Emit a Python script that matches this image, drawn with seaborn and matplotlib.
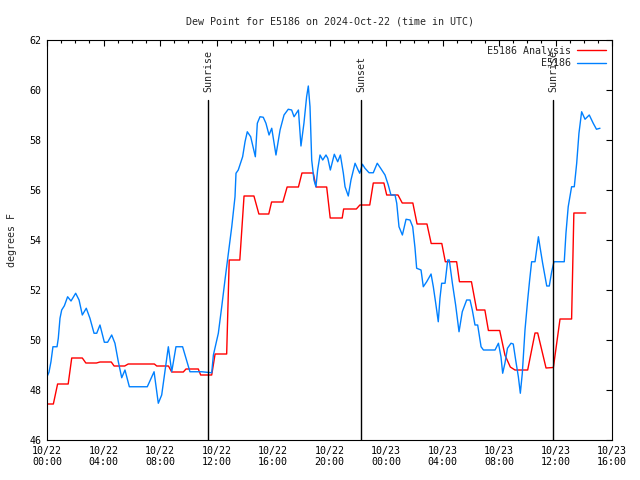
"""Dew point at station E5186: observations vs analysis, 2024-10-22/23 (UTC)."""

import matplotlib

matplotlib.use("Agg")
import matplotlib.pyplot as plt
import pandas as pd
import seaborn as sns
from matplotlib.ticker import MultipleLocator

# hours since 2024-10-22 00:00 UTC
obs_hours = [
    0.00, 0.14, 0.28, 0.42, 0.71, 0.80, 0.92, 1.04, 1.23, 1.46, 1.70, 2.03, 2.27, 2.50,
    2.78, 3.04, 3.33, 3.52, 3.75, 4.06, 4.29, 4.58, 4.81, 5.05, 5.29, 5.52, 5.83, 7.10,
    7.58, 7.88, 8.12, 8.59, 8.83, 9.13, 9.60, 10.12, 10.95, 11.66, 11.78, 12.13, 12.37,
    12.60, 12.84, 13.08, 13.31, 13.38, 13.54, 13.85, 14.02, 14.18, 14.42, 14.75, 14.89,
    15.08, 15.31, 15.50, 15.72, 15.91, 16.21, 16.50, 16.78, 17.08, 17.32, 17.49, 17.80,
    17.98, 18.19, 18.38, 18.50, 18.62, 18.74, 18.90, 19.04, 19.16, 19.33, 19.52, 19.75,
    19.88, 20.06, 20.34, 20.58, 20.77, 20.98, 21.10, 21.33, 21.52, 21.81, 22.00, 22.14,
    22.33, 22.51, 22.80, 23.10, 23.38, 23.62, 23.93, 24.16, 24.35, 24.64, 24.76, 24.92,
    25.16, 25.42, 25.70, 25.89, 26.05, 26.17, 26.48, 26.64, 26.88, 27.19, 27.35, 27.52,
    27.70, 27.82, 27.94, 28.18, 28.37, 28.48, 28.70, 28.93, 29.17, 29.40, 29.71, 29.95,
    30.11, 30.30, 30.49, 30.73, 30.90, 31.72, 31.96, 32.14, 32.26, 32.42, 32.60, 32.85,
    33.01, 33.18, 33.37, 33.51, 33.65, 33.84, 34.03, 34.17, 34.31, 34.55, 34.79, 34.90,
    35.09, 35.38, 35.56, 35.73, 35.89, 36.62, 36.74, 36.90, 37.14, 37.33, 37.50, 37.66,
    37.85, 38.09, 38.39, 38.67, 38.90, 39.15,
]
obs_dewpt = [
    48.53, 48.71, 49.13, 49.73, 49.73, 50.07, 50.87, 51.20, 51.37, 51.73, 51.56, 51.87, 51.60, 51.00,
    51.27, 50.87, 50.27, 50.27, 50.60, 49.91, 49.91, 50.20, 49.87, 49.13, 48.49, 48.80, 48.13, 48.13,
    48.73, 47.47, 47.80, 49.73, 48.73, 49.73, 49.73, 48.73, 48.73, 48.69, 49.40, 50.27, 51.33,
    52.40, 53.47, 54.53, 55.73, 56.67, 56.80, 57.33, 57.93, 58.33, 58.13, 57.33, 58.67,
    58.93, 58.91, 58.67, 58.20, 58.47, 57.40, 58.40, 59.00, 59.23, 59.20, 58.93, 59.20,
    57.76, 58.67, 59.73, 60.16, 59.33, 57.20, 56.40, 56.13, 56.80, 57.40, 57.20, 57.40,
    57.27, 56.80, 57.43, 57.13, 57.40, 56.67, 56.13, 55.76, 56.40, 57.07, 56.83, 56.67,
    57.03, 56.87, 56.69, 56.69, 57.07, 56.87, 56.60, 56.20, 55.80, 55.80, 55.47, 54.53,
    54.20, 54.83, 54.80, 54.53, 53.70, 52.87, 52.80, 52.13, 52.33, 52.64, 52.13, 51.47,
    50.73, 51.67, 52.27, 52.27, 53.20, 53.20, 52.27, 51.40, 50.33, 51.13, 51.60, 51.60,
    51.20, 50.60, 50.60, 49.73, 49.60, 49.60, 49.87, 49.33, 48.67, 49.07, 49.67, 49.87,
    49.84, 49.20, 48.53, 47.87, 48.67, 50.40, 51.60, 52.40, 53.13, 53.13, 54.13, 53.73,
    53.07, 52.16, 52.16, 52.73, 53.13, 53.13, 54.27, 55.33, 56.13, 56.13, 57.07, 58.27,
    59.13, 58.83, 59.00, 58.67, 58.43, 58.47,
]

anl_hours = [
    0.00, 0.45, 0.75, 1.50, 1.75, 2.50, 2.75, 3.50, 3.75, 4.55, 4.75, 5.50, 5.75, 7.60,
    7.77, 8.60, 8.83, 9.65, 9.84, 10.71, 10.88, 11.66, 11.90, 12.72, 12.90, 13.65,
    13.95, 14.65, 15.00, 15.70, 15.90, 16.70, 17.00, 17.80, 18.05, 18.85, 19.05, 19.80,
    20.05, 20.90, 21.00, 21.90, 22.15, 22.85, 23.10, 23.85, 24.05, 24.85, 25.15, 25.90,
    26.20, 26.90, 27.20, 27.95, 28.20, 29.00, 29.20, 30.05, 30.42, 31.00, 31.25, 32.05,
    32.42, 32.80, 33.13, 34.03, 34.55, 34.74, 35.33, 35.85, 36.32, 37.14, 37.30, 38.14,
]
anl_dewpt = [
    47.44, 47.44, 48.24, 48.24, 49.28, 49.28, 49.08, 49.08, 49.12, 49.12, 48.96, 48.96, 49.04, 49.04,
    48.96, 48.96, 48.72, 48.72, 48.84, 48.84, 48.60, 48.60, 49.44, 49.44, 53.20, 53.20,
    55.76, 55.76, 55.04, 55.04, 55.52, 55.52, 56.12, 56.12, 56.68, 56.68, 56.12, 56.12,
    54.88, 54.88, 55.24, 55.24, 55.40, 55.40, 56.28, 56.28, 55.80, 55.80, 55.48, 55.48,
    54.64, 54.64, 53.86, 53.86, 53.13, 53.13, 52.33, 52.33, 51.20, 51.20, 50.38, 50.38,
    49.40, 48.92, 48.80, 48.80, 50.28, 50.28, 48.88, 48.90, 50.84, 50.84, 55.08, 55.08,
]

sun_hours = [11.42, 22.23, 35.84]
sun_labels = ["Sunrise", "Sunset", "Sunrise"]

xtick_hours = [0, 4, 8, 12, 16, 20, 24, 28, 32, 36, 40]
xtick_labels = [
    "10/22\n00:00", "10/22\n04:00", "10/22\n08:00", "10/22\n12:00", "10/22\n16:00",
    "10/22\n20:00", "10/23\n00:00", "10/23\n04:00", "10/23\n08:00", "10/23\n12:00",
    "10/23\n16:00",
]

RED = "#ff0000"
BLUE = "#0080ff"


def main() -> None:
    sns.set_style("white")
    plt.rcParams["font.family"] = ["DejaVu Sans Mono"]
    plt.rcParams["font.size"] = 7.2

    obs = pd.DataFrame({"hour": obs_hours, "dewpt": obs_dewpt})
    anl = pd.DataFrame({"hour": anl_hours, "dewpt": anl_dewpt})

    fig = plt.figure(figsize=(6.4, 4.8), dpi=100)
    ax = fig.add_axes([47 / 640, 40 / 480, 565 / 640, 400 / 480])

    sns.lineplot(x="hour", y="dewpt", data=anl, ax=ax, color=RED, lw=1.0,
                 estimator=None, label="E5186 Analysis")
    sns.lineplot(x="hour", y="dewpt", data=obs, ax=ax, color=BLUE, lw=1.0,
                 estimator=None, label="E5186")

    for h, name in zip(sun_hours, sun_labels):
        ax.plot([h, h], [46, 59.62], color="black", lw=1.0)
        ax.text(h, 59.9, name, rotation=90, ha="center", va="bottom", fontsize=7.2)

    ax.set_xlim(0, 40)
    ax.set_ylim(46, 62)
    ax.set_xticks(xtick_hours)
    ax.set_xticklabels(xtick_labels)
    ax.xaxis.set_minor_locator(MultipleLocator(1))
    ax.set_yticks(range(46, 63, 2))
    ax.tick_params(which="both", direction="in", top=True, right=True,
                   colors="black", labelsize=7.2)
    ax.tick_params(which="major", length=4.5, width=0.8, pad=4)
    ax.tick_params(which="minor", length=2.2, width=0.8)
    for s in ax.spines.values():
        s.set_color("black")
        s.set_linewidth(0.8)

    ax.set_xlabel("")
    ax.set_ylabel("degrees F", fontsize=7.2, labelpad=9)
    ax.set_title("Dew Point for E5186 on 2024-Oct-22 (time in UTC)", fontsize=7.2, pad=11)

    ax.legend(loc="upper right", frameon=False, markerfirst=False, fontsize=7.2,
              handlelength=2.9, handletextpad=0.6, labelspacing=0.25,
              borderaxespad=0.3, borderpad=0.3)

    fig.savefig("out.png", dpi=100)
    plt.close(fig)


if __name__ == "__main__":
    main()
